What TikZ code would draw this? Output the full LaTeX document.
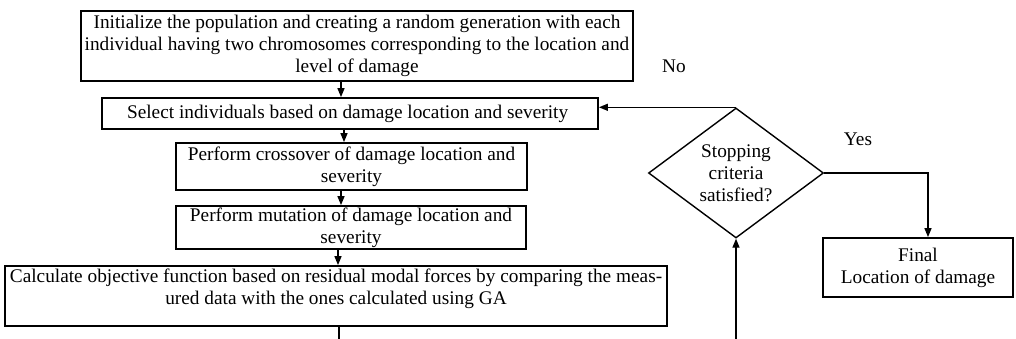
\documentclass[tikz,border=0pt]{standalone}
\usepackage{fontspec}
\setmainfont{Liberation Serif}
\usetikzlibrary{positioning, arrows.meta, shapes.geometric}

\begin{document}
\begin{tikzpicture}[
            x = 1pt, y = -1pt,
            every node/.style = {
                align = center,
                inner sep = 0pt,
                font = \fontsize{19.3}{22}\selectfont
            },
            block/.style = {
                draw,
                rectangle,
                line width = 1.8pt
            },
            decision/.style = {
                draw,
                diamond,
                aspect = 1.35,
                line width = 1.4pt,
                minimum width = 175pt,
                minimum height = 130pt
            },
            flow/.style = {
                line width = 1.4pt,
                -{Triangle[length = 9pt, width = 7pt]}
            },
            plain/.style = {
                line width = 1.4pt
            }
        ]
            \useasboundingbox (0,0) rectangle (1016,339);

            % main column
            \node[block, minimum width = 552pt, minimum height = 70pt] (init) at (357,46) {
                Initialize the population and creating a random generation with each \\
                individual having two chromosomes corresponding to the location and \\
                level of damage
            };
            \node[block, minimum width = 496pt, minimum height = 31pt] (select) at (350,113.5) {
                Select individuals based on damage location and severity
            };
            \node[block, minimum width = 351pt, minimum height = 47pt] (cross) at (351.5,166.5) {
                Perform crossover of damage location and \\
                severity
            };
            \node[block, minimum width = 350pt, minimum height = 43pt] (mutate) at (351,227.5) {
                Perform mutation of damage location and \\
                severity
            };
            \node[block, minimum width = 662pt, minimum height = 60pt] (objective) at (336,296) {};
            \node[below = 4pt of objective.north] (objtext) {
                Calculate objective function based on residual modal forces by comparing the meas- \\
                ured data with the ones calculated using GA
            };

            % decision and result
            \node[decision] (stop) at (736,173) {
                Stopping \\
                criteria \\
                satisfied?
            };
            \node[block, minimum width = 190pt, minimum height = 59pt] (final) at (918,267.5) {
                Final \\
                Location of damage
            };
            \node (no) at (674,66) {No};
            \node (yes) at (858,139) {Yes};

            \coordinate (loopout) at (339,339);
            \coordinate (loopin) at (736,339);

            % connectors
            \draw[flow] ([xshift = -16pt]init.south) -- ([xshift = -16pt]init.south |- select.north);
            \draw[flow] ([xshift = -6pt]select.south) -- ([xshift = -6pt]select.south |- cross.north);
            \draw[flow] ([xshift = -10.5pt]cross.south) -- ([xshift = -10.5pt]cross.south |- mutate.north);
            \draw[flow] ([xshift = -13pt]mutate.south) -- ([xshift = -13pt]mutate.south |- objective.north);
            \draw[plain] (objective.south -| loopout) -- (loopout);
            \draw[flow] (loopin) -- (stop.south);
            \draw[flow] (stop.north) -- (stop.north -| select.east);
            \draw[flow] (stop.east) -| ([xshift = 10pt]final.north);
        \end{tikzpicture}
\end{document}
